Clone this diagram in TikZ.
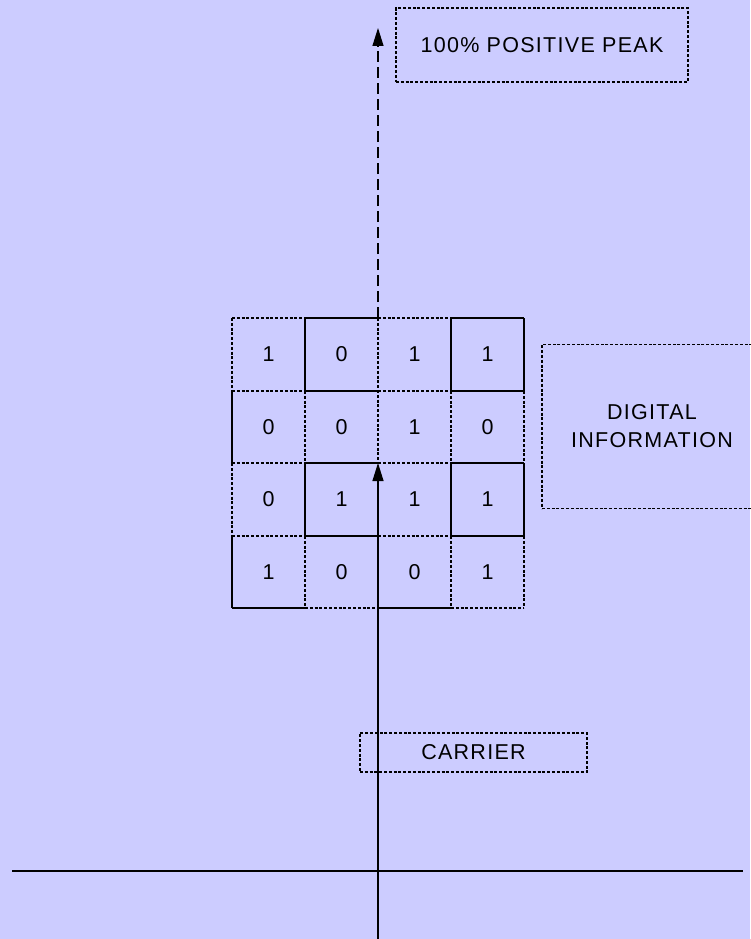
\documentclass[tikz,border=0pt]{standalone}
\usepackage{fontspec}
\setmainfont{Liberation Sans}[LetterSpace=6]
\usetikzlibrary{arrows.meta}
\definecolor{bg}{HTML}{CCCCFF}
\begin{document}
\begin{tikzpicture}[x=1pt,y=-1pt,line width=1.2pt,
  lbl/.style={font=\fontsize{21.5}{28}\selectfont,inner sep=0pt,align=center},
  sd/.style={dash pattern=on 3pt off 1.8pt},
  txtbox/.style={lbl,draw,sd,line width=1.1pt},
  tip/.style={-{Triangle[length=18pt,width=11pt]}}]
\useasboundingbox[fill=bg] (0,0) rectangle (750,939);
% text boxes
\node[txtbox,minimum width=292pt,minimum height=74pt] (peak) at (542,45) {100\% POSITIVE PEAK};
\node[txtbox,minimum width=227pt,minimum height=39pt] (carrier) at (473.5,752.5) {CARRIER};
\node[txtbox,minimum width=220pt,minimum height=164pt] (digital) at (652,426.5) {DIGITAL\\INFORMATION};
% grid: dashed segments
\foreach \y in {318,391,463,536} {
  \draw[sd] (232,\y) -- (305,\y);
  \draw[sd] (378,\y) -- (451,\y);
}
\draw[sd] (305,608) -- (378,608);
\draw[sd] (451,608) -- (524,608);
\draw[sd] (232,318) -- (232,391);
\draw[sd] (232,463) -- (232,536);
\foreach \x in {305,451,524} {
  \draw[sd] (\x,391) -- (\x,463);
  \draw[sd] (\x,536) -- (\x,608);
}
\draw[sd] (378,318) -- (378,463);
% grid: solid segments
\foreach \y in {318,391,463,536} {
  \draw (305,\y) -- (378,\y);
  \draw (451,\y) -- (524,\y);
}
\draw (232,608) -- (305,608);
\draw (378,608) -- (451,608);
\draw (232,391) -- (232,463);
\draw (232,536) -- (232,608);
\foreach \x in {305,451,524} {
  \draw (\x,318) -- (\x,391);
  \draw (\x,463) -- (\x,536);
}
% digits
\foreach \v [count=\i] in {1,0,1,1} \node[lbl] (d1\i) at (195.5+73*\i,354.5) {\v};
\foreach \v [count=\i] in {0,0,1,0} \node[lbl] (d2\i) at (195.5+73*\i,427) {\v};
\foreach \v [count=\i] in {0,1,1,1} \node[lbl] (d3\i) at (195.5+73*\i,499.5) {\v};
\foreach \v [count=\i] in {1,0,0,1} \node[lbl] (d4\i) at (195.5+73*\i,572) {\v};
% axes and arrows
\coordinate (axl) at (12,871);
\coordinate (axr) at (743,871);
\coordinate (cb) at (378,939);
\coordinate (ct) at (378,463);
\coordinate (gt) at (378,318);
\coordinate (pt) at (378,28);
\draw (axl) -- (axr);
\draw[tip] (cb) -- (ct);
\draw[tip,dash pattern=on 11pt off 5pt] (gt) -- (pt);
\end{tikzpicture}
\end{document}
